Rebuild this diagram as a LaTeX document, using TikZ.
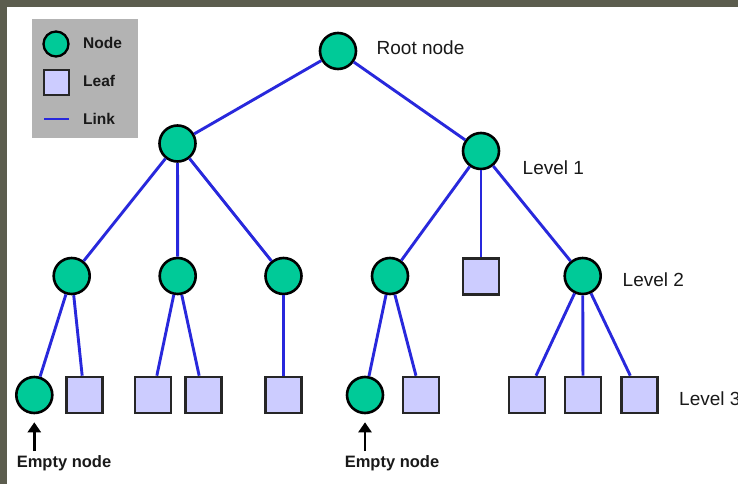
\documentclass[tikz,border=0pt]{standalone}
\usepackage{fontspec}
\setmainfont{Liberation Sans}
\usetikzlibrary{arrows.meta}
\definecolor{framec}{RGB}{92,93,78}
\definecolor{nodegreen}{RGB}{0,202,152}
\definecolor{leafc}{RGB}{204,204,255}
\definecolor{linkc}{RGB}{40,40,220}
\definecolor{legbg}{RGB}{179,179,179}
\definecolor{txt}{RGB}{25,25,25}
\tikzset{
  tnode/.style={circle, draw=black, fill=nodegreen, line width=2.6pt, minimum size=36pt, inner sep=0pt},
  tleaf/.style={rectangle, draw=black!85, fill=leafc, line width=2.6pt, minimum size=36pt, inner sep=0pt},
  link/.style={draw=linkc, line width=2.9pt},
  biglabel/.style={anchor=west, inner sep=0pt, text=txt, font=\fontsize{19}{22}\selectfont},
  smalllabel/.style={inner sep=0pt, text=txt, font=\fontsize{15.5}{18}\selectfont\bfseries},
  emptylabel/.style={inner sep=0pt, text=txt, font=\fontsize{16.5}{19}\selectfont\bfseries},
  arr/.style={draw=black, line width=2.4pt, -{Triangle[length=10pt,width=13pt]}}
}
\begin{document}
\begin{tikzpicture}[x=1pt,y=-1pt]
\useasboundingbox (0,0) rectangle (738,484);
\fill[framec] (0,0) rectangle (738,484);
\fill[white] (7,7) rectangle (738,484);

% legend
\fill[legbg] (31.5,19.5) rectangle (137.5,137.5);
\node[tnode, minimum size=25pt, line width=2.3pt] (lgn) at (56,44) {};
\node[tleaf, minimum size=25pt, line width=2.3pt] (lgl) at (56.3,82.5) {};
\coordinate (lk1) at (44,119);
\coordinate (lk2) at (69,119);
\draw[link] (lk1) -- (lk2);
\node[smalllabel, anchor=west] (lgnt) at (83,43) {Node};
\node[smalllabel, anchor=west] (lglt) at (83,81) {Leaf};
\node[smalllabel, anchor=west] (lgkt) at (83,119) {Link};

% tree nodes
\node[tnode] (root) at (338,51) {};
\node[tnode] (l1a) at (177.5,143.5) {};
\node[tnode] (l1b) at (481,151) {};
\node[tnode] (l2a) at (71.7,276) {};
\node[tnode] (l2b) at (177.7,276) {};
\node[tnode] (l2c) at (283.5,276) {};
\node[tnode] (l2d) at (390,276) {};
\node[tleaf] (l2e) at (481,276.5) {};
\node[tnode] (l2f) at (582.7,276) {};
\node[tnode] (l3a) at (34.3,395) {};
\node[tleaf] (l3b) at (84.2,395) {};
\node[tleaf] (l3c) at (152.8,395) {};
\node[tleaf] (l3d) at (203.3,395) {};
\node[tleaf] (l3e) at (283.5,395) {};
\node[tnode] (l3f) at (365,395) {};
\node[tleaf] (l3g) at (421,395) {};
\node[tleaf] (l3h) at (527,395) {};
\node[tleaf] (l3i) at (583,395) {};
\node[tleaf] (l3j) at (639.5,395) {};

% links
\draw[link] (root) -- (l1a);
\draw[link] (root) -- (l1b);
\draw[link] (l1a) -- (l2a);
\draw[link] (l1a) -- (l2b);
\draw[link] (l1a) -- (l2c);
\draw[link] (l1b) -- (l2d);
\draw[link] (l1b) -- (l2e);
\draw[link] (l1b) -- (l2f);
\draw[link] (l2a) -- (l3a);
\draw[link] (l2a) -- (l3b);
\draw[link] (l2b) -- (l3c);
\draw[link] (l2b) -- (l3d);
\draw[link] (l2c) -- (l3e);
\draw[link] (l2d) -- (l3f);
\draw[link] (l2d) -- (l3g);
\draw[link] (l2f) -- (l3h);
\draw[link] (l2f) -- (l3i);
\draw[link] (l2f) -- (l3j);

% labels
\node[biglabel] (troot) at (376.5,47.5) {Root node};
\node[biglabel] (tl1) at (522.5,167.5) {Level 1};
\node[biglabel] (tl2) at (622.5,280) {Level 2};
\node[biglabel] (tl3) at (679,399) {Level 3};

% empty node annotations
\node[emptylabel] (e1) at (64,463) {Empty node};
\node[emptylabel] (e2) at (392,463) {Empty node};
\draw[arr] ([yshift=4pt]e1.north -| l3a) -- ([yshift=-8pt]l3a.south);
\draw[arr] ([yshift=4pt]e2.north -| l3f) -- ([yshift=-8pt]l3f.south);
\end{tikzpicture}
\end{document}
